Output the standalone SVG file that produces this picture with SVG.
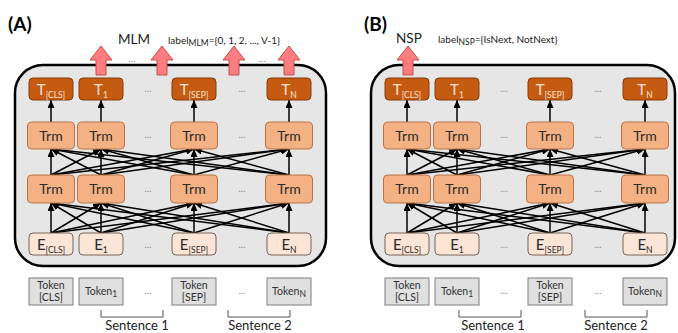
<svg xmlns="http://www.w3.org/2000/svg" width="678" height="333" viewBox="0 0 678 333">
<style>
text{font-family:Lato,"Open Sans","Liberation Sans",sans-serif}
.outer{fill:#e6e6e6;stroke:#000;stroke-width:2.5}
.t{fill:#c55a11;stroke:#843c0c;stroke-width:1}
.trm{fill:#f4b183;stroke:#b87448;stroke-width:1}
.e{fill:#fbe5d6;stroke:#7a6455;stroke-width:1}
.tok{fill:#e0e0e0;stroke:#7f7f7f;stroke-width:1}
.pink{fill:#ff7c80;stroke:#c0504d;stroke-width:1}
.tt{fill:#fbe3d3;font-size:15px;text-anchor:middle}
.dk{fill:#2b2b2b;font-size:14px;text-anchor:middle}
.et{fill:#2b2b2b;font-size:15px;text-anchor:middle}
.tk{fill:#333;font-size:10.5px;text-anchor:middle}
.dots{fill:#888;font-size:10px;text-anchor:middle}
.sub{font-size:8.5px}
.title{fill:#000;font-size:19px;font-weight:bold}
.lab{fill:#222;font-size:10px}
.big{fill:#222;font-size:13.5px}
.sent{fill:#222;font-size:13px;text-anchor:middle}
.br{fill:none;stroke:#555;stroke-width:1}
#connectors line{stroke:#000;stroke-width:1.5;marker-end:url(#ah)}
</style>
<defs>
<marker id="ah" markerUnits="userSpaceOnUse" markerWidth="8" markerHeight="7" refX="8" refY="3.5" orient="auto">
<path d="M0,0 L8,3.5 L0,7 Z" fill="#000"/>
</marker>
</defs>

<!-- Panel A -->
<g id="panelA">
<text class="title" x="8" y="31">(A)</text>
<text class="big" x="118" y="44">MLM</text>
<text class="lab" x="168" y="44">label<tspan class="sub" dy="2">MLM</tspan><tspan dy="-2">={0, 1, 2, ..., V-1}</tspan></text>
<rect id="A-box" class="outer" x="15" y="65" width="311" height="201" rx="28"/>
</g>

<!-- Panel B -->
<g id="panelB">
<text class="title" x="364" y="31">(B)</text>
<text class="big" x="396" y="43">NSP</text>
<text class="lab" x="438" y="43">label<tspan class="sub" dy="2">NSP</tspan><tspan dy="-2">={IsNext, NotNext}</tspan></text>
<rect id="B-box" class="outer" x="371" y="65" width="304" height="201" rx="28"/>
</g>

<!-- Connectors -->
<g id="connectors">
<!-- A: E -> Trm2 -->
<line x1="51" y1="233" x2="51" y2="203"/><line x1="51" y1="233" x2="101" y2="203"/><line x1="51" y1="233" x2="194" y2="203"/><line x1="51" y1="233" x2="289" y2="203"/>
<line x1="101" y1="233" x2="51" y2="203"/><line x1="101" y1="233" x2="101" y2="203"/><line x1="101" y1="233" x2="194" y2="203"/><line x1="101" y1="233" x2="289" y2="203"/>
<line x1="194" y1="233" x2="51" y2="203"/><line x1="194" y1="233" x2="101" y2="203"/><line x1="194" y1="233" x2="194" y2="203"/><line x1="194" y1="233" x2="289" y2="203"/>
<line x1="289" y1="233" x2="51" y2="203"/><line x1="289" y1="233" x2="101" y2="203"/><line x1="289" y1="233" x2="194" y2="203"/><line x1="289" y1="233" x2="289" y2="203"/>
<!-- A: Trm2 -> Trm1 -->
<line x1="51" y1="175" x2="51" y2="149"/><line x1="51" y1="175" x2="101" y2="149"/><line x1="51" y1="175" x2="194" y2="149"/><line x1="51" y1="175" x2="289" y2="149"/>
<line x1="101" y1="175" x2="51" y2="149"/><line x1="101" y1="175" x2="101" y2="149"/><line x1="101" y1="175" x2="194" y2="149"/><line x1="101" y1="175" x2="289" y2="149"/>
<line x1="194" y1="175" x2="51" y2="149"/><line x1="194" y1="175" x2="101" y2="149"/><line x1="194" y1="175" x2="194" y2="149"/><line x1="194" y1="175" x2="289" y2="149"/>
<line x1="289" y1="175" x2="51" y2="149"/><line x1="289" y1="175" x2="101" y2="149"/><line x1="289" y1="175" x2="194" y2="149"/><line x1="289" y1="175" x2="289" y2="149"/>
<!-- A: Trm1 -> T -->
<line x1="51" y1="122" x2="51" y2="100"/><line x1="101" y1="122" x2="101" y2="100"/><line x1="194" y1="122" x2="194" y2="100"/><line x1="289" y1="122" x2="289" y2="100"/>
<!-- B: E -> Trm2 -->
<line x1="407" y1="233" x2="407" y2="203"/><line x1="407" y1="233" x2="457" y2="203"/><line x1="407" y1="233" x2="550" y2="203"/><line x1="407" y1="233" x2="645" y2="203"/>
<line x1="457" y1="233" x2="407" y2="203"/><line x1="457" y1="233" x2="457" y2="203"/><line x1="457" y1="233" x2="550" y2="203"/><line x1="457" y1="233" x2="645" y2="203"/>
<line x1="550" y1="233" x2="407" y2="203"/><line x1="550" y1="233" x2="457" y2="203"/><line x1="550" y1="233" x2="550" y2="203"/><line x1="550" y1="233" x2="645" y2="203"/>
<line x1="645" y1="233" x2="407" y2="203"/><line x1="645" y1="233" x2="457" y2="203"/><line x1="645" y1="233" x2="550" y2="203"/><line x1="645" y1="233" x2="645" y2="203"/>
<!-- B: Trm2 -> Trm1 -->
<line x1="407" y1="175" x2="407" y2="149"/><line x1="407" y1="175" x2="457" y2="149"/><line x1="407" y1="175" x2="550" y2="149"/><line x1="407" y1="175" x2="645" y2="149"/>
<line x1="457" y1="175" x2="407" y2="149"/><line x1="457" y1="175" x2="457" y2="149"/><line x1="457" y1="175" x2="550" y2="149"/><line x1="457" y1="175" x2="645" y2="149"/>
<line x1="550" y1="175" x2="407" y2="149"/><line x1="550" y1="175" x2="457" y2="149"/><line x1="550" y1="175" x2="550" y2="149"/><line x1="550" y1="175" x2="645" y2="149"/>
<line x1="645" y1="175" x2="407" y2="149"/><line x1="645" y1="175" x2="457" y2="149"/><line x1="645" y1="175" x2="550" y2="149"/><line x1="645" y1="175" x2="645" y2="149"/>
<!-- B: Trm1 -> T -->
<line x1="407" y1="122" x2="407" y2="100"/><line x1="457" y1="122" x2="457" y2="100"/><line x1="550" y1="122" x2="550" y2="100"/><line x1="645" y1="122" x2="645" y2="100"/>
</g>

<!-- Output arrows -->
<g id="A-out-arrows">
<path class="pink" d="M101,46 L112,60 L106,60 L106,75 L96,75 L96,60 L90,60 Z"/>
<path class="pink" d="M162,46 L173,60 L167,60 L167,75 L157,75 L157,60 L151,60 Z"/>
<path class="pink" d="M234,46 L245,60 L239,60 L239,75 L229,75 L229,60 L223,60 Z"/>
<path class="pink" d="M289,46 L300,60 L294,60 L294,75 L284,75 L284,60 L278,60 Z"/>
<text class="dots" x="132" y="62">...</text>
<text class="dots" x="262" y="62">...</text>
</g>
<g id="B-out-arrow">
<path class="pink" d="M408,46 L419,60 L413,60 L413,75 L403,75 L403,60 L397,60 Z"/>
</g>

<!-- Panel A nodes -->
<g id="A-T-CLS"><rect class="t" x="29" y="78" width="44" height="22" rx="4"/><text class="tt" x="51" y="95">T<tspan class="sub" dy="3">[CLS]</tspan></text></g>
<g id="A-T-1"><rect class="t" x="79" y="78" width="44" height="22" rx="4"/><text class="tt" x="101" y="95">T<tspan class="sub" dy="3">1</tspan></text></g>
<g id="A-T-SEP"><rect class="t" x="172" y="78" width="44" height="22" rx="4"/><text class="tt" x="194" y="95">T<tspan class="sub" dy="3">[SEP]</tspan></text></g>
<g id="A-T-N"><rect class="t" x="267" y="78" width="44" height="22" rx="4"/><text class="tt" x="289" y="95">T<tspan class="sub" dy="3">N</tspan></text></g>
<text class="dots" x="148" y="92">...</text><text class="dots" x="242" y="92">...</text>

<g id="A-Trm1-CLS"><rect class="trm" x="27.5" y="122" width="47" height="27" rx="4"/><text class="dk" x="51" y="140.5">Trm</text></g>
<g id="A-Trm1-1"><rect class="trm" x="77.5" y="122" width="47" height="27" rx="4"/><text class="dk" x="101" y="140.5">Trm</text></g>
<g id="A-Trm1-SEP"><rect class="trm" x="170.5" y="122" width="47" height="27" rx="4"/><text class="dk" x="194" y="140.5">Trm</text></g>
<g id="A-Trm1-N"><rect class="trm" x="265.5" y="122" width="47" height="27" rx="4"/><text class="dk" x="289" y="140.5">Trm</text></g>
<text class="dots" x="148" y="138">...</text><text class="dots" x="242" y="138">...</text>

<g id="A-Trm2-CLS"><rect class="trm" x="27.5" y="175" width="47" height="28" rx="4"/><text class="dk" x="51" y="194">Trm</text></g>
<g id="A-Trm2-1"><rect class="trm" x="77.5" y="175" width="47" height="28" rx="4"/><text class="dk" x="101" y="194">Trm</text></g>
<g id="A-Trm2-SEP"><rect class="trm" x="170.5" y="175" width="47" height="28" rx="4"/><text class="dk" x="194" y="194">Trm</text></g>
<g id="A-Trm2-N"><rect class="trm" x="265.5" y="175" width="47" height="28" rx="4"/><text class="dk" x="289" y="194">Trm</text></g>
<text class="dots" x="148" y="192">...</text><text class="dots" x="242" y="192">...</text>

<g id="A-E-CLS"><rect class="e" x="29" y="233" width="44" height="22" rx="4"/><text class="et" x="51" y="250">E<tspan class="sub" dy="3">[CLS]</tspan></text></g>
<g id="A-E-1"><rect class="e" x="79" y="233" width="44" height="22" rx="4"/><text class="et" x="101" y="250">E<tspan class="sub" dy="3">1</tspan></text></g>
<g id="A-E-SEP"><rect class="e" x="172" y="233" width="44" height="22" rx="4"/><text class="et" x="194" y="250">E<tspan class="sub" dy="3">[SEP]</tspan></text></g>
<g id="A-E-N"><rect class="e" x="267" y="233" width="44" height="22" rx="4"/><text class="et" x="289" y="250">E<tspan class="sub" dy="3">N</tspan></text></g>
<text class="dots" x="148" y="248">...</text><text class="dots" x="242" y="248">...</text>

<g id="A-Tok-CLS"><rect class="tok" x="29" y="278" width="44" height="27"/><text class="tk" x="51" y="289">Token</text><text class="tk" x="51" y="301">[CLS]</text></g>
<g id="A-Tok-1"><rect class="tok" x="79" y="278" width="44" height="27"/><text class="tk" x="101" y="295">Token<tspan class="sub" dy="2">1</tspan></text></g>
<g id="A-Tok-SEP"><rect class="tok" x="172" y="278" width="44" height="27"/><text class="tk" x="194" y="289">Token</text><text class="tk" x="194" y="301">[SEP]</text></g>
<g id="A-Tok-N"><rect class="tok" x="267" y="278" width="44" height="27"/><text class="tk" x="289" y="295">Token<tspan class="sub" dy="2">N</tspan></text></g>
<text class="dots" x="148" y="294">...</text><text class="dots" x="242" y="294">...</text>

<g id="A-sentences">
<path class="br" d="M101,310 V317 H163 V310"/>
<path class="br" d="M228,310 V317 H290 V310"/>
<text class="sent" x="137" y="330">Sentence 1</text>
<text class="sent" x="260" y="330">Sentence 2</text>
</g>

<!-- Panel B nodes -->
<g id="B-T-CLS"><rect class="t" x="385" y="78" width="44" height="22" rx="4"/><text class="tt" x="407" y="95">T<tspan class="sub" dy="3">[CLS]</tspan></text></g>
<g id="B-T-1"><rect class="t" x="435" y="78" width="44" height="22" rx="4"/><text class="tt" x="457" y="95">T<tspan class="sub" dy="3">1</tspan></text></g>
<g id="B-T-SEP"><rect class="t" x="528" y="78" width="44" height="22" rx="4"/><text class="tt" x="550" y="95">T<tspan class="sub" dy="3">[SEP]</tspan></text></g>
<g id="B-T-N"><rect class="t" x="623" y="78" width="44" height="22" rx="4"/><text class="tt" x="645" y="95">T<tspan class="sub" dy="3">N</tspan></text></g>
<text class="dots" x="504" y="92">...</text><text class="dots" x="598" y="92">...</text>

<g id="B-Trm1-CLS"><rect class="trm" x="383.5" y="122" width="47" height="27" rx="4"/><text class="dk" x="407" y="140.5">Trm</text></g>
<g id="B-Trm1-1"><rect class="trm" x="433.5" y="122" width="47" height="27" rx="4"/><text class="dk" x="457" y="140.5">Trm</text></g>
<g id="B-Trm1-SEP"><rect class="trm" x="526.5" y="122" width="47" height="27" rx="4"/><text class="dk" x="550" y="140.5">Trm</text></g>
<g id="B-Trm1-N"><rect class="trm" x="621.5" y="122" width="47" height="27" rx="4"/><text class="dk" x="645" y="140.5">Trm</text></g>
<text class="dots" x="504" y="138">...</text><text class="dots" x="598" y="138">...</text>

<g id="B-Trm2-CLS"><rect class="trm" x="383.5" y="175" width="47" height="28" rx="4"/><text class="dk" x="407" y="194">Trm</text></g>
<g id="B-Trm2-1"><rect class="trm" x="433.5" y="175" width="47" height="28" rx="4"/><text class="dk" x="457" y="194">Trm</text></g>
<g id="B-Trm2-SEP"><rect class="trm" x="526.5" y="175" width="47" height="28" rx="4"/><text class="dk" x="550" y="194">Trm</text></g>
<g id="B-Trm2-N"><rect class="trm" x="621.5" y="175" width="47" height="28" rx="4"/><text class="dk" x="645" y="194">Trm</text></g>
<text class="dots" x="504" y="192">...</text><text class="dots" x="598" y="192">...</text>

<g id="B-E-CLS"><rect class="e" x="385" y="233" width="44" height="22" rx="4"/><text class="et" x="407" y="250">E<tspan class="sub" dy="3">[CLS]</tspan></text></g>
<g id="B-E-1"><rect class="e" x="435" y="233" width="44" height="22" rx="4"/><text class="et" x="457" y="250">E<tspan class="sub" dy="3">1</tspan></text></g>
<g id="B-E-SEP"><rect class="e" x="528" y="233" width="44" height="22" rx="4"/><text class="et" x="550" y="250">E<tspan class="sub" dy="3">[SEP]</tspan></text></g>
<g id="B-E-N"><rect class="e" x="623" y="233" width="44" height="22" rx="4"/><text class="et" x="645" y="250">E<tspan class="sub" dy="3">N</tspan></text></g>
<text class="dots" x="504" y="248">...</text><text class="dots" x="598" y="248">...</text>

<g id="B-Tok-CLS"><rect class="tok" x="385" y="278" width="44" height="27"/><text class="tk" x="407" y="289">Token</text><text class="tk" x="407" y="301">[CLS]</text></g>
<g id="B-Tok-1"><rect class="tok" x="435" y="278" width="44" height="27"/><text class="tk" x="457" y="295">Token<tspan class="sub" dy="2">1</tspan></text></g>
<g id="B-Tok-SEP"><rect class="tok" x="528" y="278" width="44" height="27"/><text class="tk" x="550" y="289">Token</text><text class="tk" x="550" y="301">[SEP]</text></g>
<g id="B-Tok-N"><rect class="tok" x="623" y="278" width="44" height="27"/><text class="tk" x="645" y="295">Token<tspan class="sub" dy="2">N</tspan></text></g>
<text class="dots" x="504" y="294">...</text><text class="dots" x="598" y="294">...</text>

<g id="B-sentences">
<path class="br" d="M459,310 V317 H521 V310"/>
<path class="br" d="M585,310 V317 H647 V310"/>
<text class="sent" x="493" y="330">Sentence 1</text>
<text class="sent" x="616" y="330">Sentence 2</text>
</g>
</svg>
